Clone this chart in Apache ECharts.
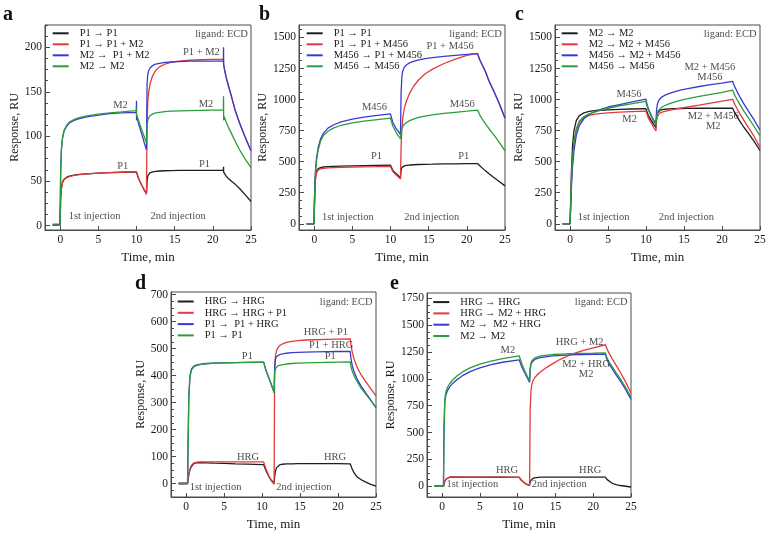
<!DOCTYPE html>
<html><head><meta charset="utf-8">
<script src="https://cdn.jsdelivr.net/npm/echarts@6/dist/echarts.min.js"></script>
<style>html,body{margin:0;padding:0;background:#fff}#c{width:771px;height:536px}</style>
</head><body><div id="c"></div><script>
const FONT = '"Liberation Serif","Times New Roman",serif';

// ---------- time grids (min) ----------
const tA = [-1, -0.02, 0.05, 0.15, 0.3, 0.5, 0.8, 1.2, 1.8, 2.5, 3.5, 5, 6.5, 8, 9.97, 9.99, 10.0, 10.02, 10.3, 10.7, 11.0, 11.3, 11.38, 11.48, 11.6, 11.8, 12.1, 12.5, 13, 13.7, 14.5, 15.5, 17, 18.5, 20, 21.38, 21.4, 21.42, 21.5, 21.7, 22, 22.4, 22.9, 23.5, 24.2, 25];
const tBC = [-1, -0.02, 0.05, 0.15, 0.3, 0.5, 0.8, 1.2, 1.8, 2.5, 3.5, 5, 6.5, 8, 9.98, 10.02, 10.3, 10.7, 11.0, 11.3, 11.38, 11.48, 11.6, 11.8, 12.1, 12.5, 13, 13.7, 14.5, 15.5, 17, 18.5, 20, 21.4, 21.5, 21.7, 22, 22.4, 22.9, 23.5, 24.2, 25];
const tDE = [-1, 0.18, 0.25, 0.35, 0.5, 0.7, 1.0, 1.4, 2, 2.7, 3.7, 5, 6.5, 8, 10.2, 10.25, 10.5, 10.9, 11.2, 11.58, 11.65, 11.75, 11.88, 12.05, 12.3, 12.7, 13.2, 13.9, 14.7, 15.7, 17, 18.5, 20, 21.6, 21.7, 21.85, 22.1, 22.5, 23, 23.6, 24.3, 25];

// ---------- panel a (RU) ----------
const namesA = ['P1 \u2192 P1', 'P1 \u2192 P1 + M2', 'M2 \u2192  P1 + M2', 'M2 \u2192 M2'];
const a_P1_P1 = [0.5, 0.5, 30, 42, 49, 52, 54, 55.5, 56.5, 57.3, 58, 58.8, 59.3, 59.8, 60.3, 60.3, 60.3, 59, 52, 45, 40, 36, 50, 56, 58, 59.5, 60.3, 60.8, 61.2, 61.5, 61.7, 61.8, 62, 62, 62, 62, 66, 60, 58, 56, 53, 50, 46.5, 41.5, 35, 27];
const a_P1_P1M2 = [1.5, 1.5, 30, 42, 48, 51.5, 53.5, 55, 56.3, 57.2, 58, 58.8, 59.3, 59.8, 60.5, 60.5, 60.5, 59, 52, 45, 40, 35, 120, 140, 150, 160, 168, 174, 178, 181, 183, 184.5, 185.5, 186, 186.5, 186.5, 186.5, 180, 178, 168, 158, 146, 130, 115, 100, 84];
const a_M2_P1M2 = [0.5, 0.5, 60, 85, 98, 106, 111, 115, 118, 120, 122, 124, 125.5, 126.5, 127, 140, 118, 124, 113, 102, 93, 85, 160, 170, 174, 177, 179.5, 181, 182, 183, 183.5, 184, 184.5, 184.5, 184.5, 184.5, 200, 180, 178, 168, 158, 146, 130, 115, 100, 84];
const a_M2_M2 = [0.5, 0.5, 60, 85, 99, 107, 112, 116, 119, 121, 123, 125, 126.5, 127.5, 129, 133, 124, 126, 117, 107, 100, 93, 112, 118, 121, 123.5, 125, 126.3, 127, 127.8, 128.3, 128.7, 129, 129.3, 129.5, 129.5, 145, 118, 122, 117, 111, 104, 95, 85, 75, 65];

// ---------- panel b ----------
const namesB = ['P1 \u2192 P1', 'P1 \u2192 P1 + M456', 'M456 \u2192 P1 + M456', 'M456 \u2192 M456'];
const b_P1_P1 = [0, 0, 250, 380, 425, 443, 452, 457, 460, 462, 464, 466, 468, 470, 472, 465, 430, 405, 388, 370, 430, 452, 460, 466, 470, 473, 475, 477, 479, 480, 482, 483, 484, 485, 478, 467, 450, 428, 402, 374, 342, 305];
const b_P1_P1M456 = [0, 0, 200, 350, 410, 432, 442, 447, 450, 452, 454, 456, 458, 460, 463, 456, 420, 395, 378, 360, 620, 760, 850, 930, 990, 1050, 1105, 1160, 1205, 1245, 1290, 1325, 1355, 1372, 1352, 1320, 1282, 1232, 1152, 1072, 977, 852];
const b_M456_P1M456 = [0, 0, 250, 420, 530, 610, 680, 730, 770, 795, 820, 843, 858, 870, 885, 870, 815, 770, 745, 718, 1050, 1180, 1230, 1260, 1280, 1295, 1308, 1320, 1330, 1338, 1348, 1356, 1363, 1370, 1350, 1318, 1280, 1230, 1150, 1070, 975, 850];
const b_M456_M456 = [0, 0, 240, 400, 510, 590, 660, 710, 745, 770, 793, 813, 826, 837, 850, 835, 785, 740, 710, 683, 740, 765, 782, 800, 815, 830, 843, 856, 866, 876, 888, 897, 906, 915, 900, 875, 845, 808, 765, 720, 660, 587];

// ---------- panel c ----------
const namesC = ['M2 \u2192 M2', 'M2 \u2192 M2 + M456', 'M456 \u2192 M2 + M456', 'M456 \u2192 M456'];
const c_M2_M2 = [0, 0, 150, 400, 620, 750, 830, 870, 893, 905, 912, 917, 921, 924, 927, 915, 870, 830, 800, 775, 860, 890, 903, 912, 918, 922, 925, 927, 928, 929, 930, 930, 930, 930, 915, 890, 860, 820, 775, 725, 665, 590];
const c_M2_M2M456 = [0, 0, 120, 320, 500, 640, 750, 815, 855, 873, 885, 893, 898, 902, 907, 893, 850, 808, 775, 748, 830, 862, 877, 890, 898, 905, 912, 920, 930, 940, 955, 972, 988, 1002, 985, 960, 925, 880, 830, 772, 705, 615];
const c_M456_M2M456 = [0, 0, 100, 280, 450, 590, 710, 790, 845, 880, 910, 940, 960, 980, 1004, 985, 925, 870, 835, 810, 920, 960, 985, 1005, 1022, 1035, 1048, 1062, 1075, 1088, 1105, 1120, 1133, 1147, 1128, 1100, 1062, 1015, 963, 905, 838, 755];
const c_M456_M456 = [0, 0, 130, 340, 520, 660, 765, 825, 862, 885, 905, 930, 950, 965, 985, 968, 915, 860, 825, 795, 860, 890, 910, 925, 940, 952, 965, 980, 993, 1007, 1025, 1042, 1058, 1075, 1058, 1032, 997, 955, 905, 850, 785, 707];

// ---------- panel d ----------
const namesD = ['HRG \u2192 HRG', 'HRG \u2192 HRG + P1', 'P1 \u2192  P1 + HRG', 'P1 \u2192 P1'];
const d_HRG_HRG = [0, 0, 15, 35, 52, 63, 74, 77, 77, 76.5, 75.5, 74.5, 73, 72, 70, 66, 48, 25, 12, 2, 25, 45, 58, 65, 69, 71.5, 72.5, 73, 73.5, 73.5, 73.5, 73.5, 73.5, 73, 68, 55, 40, 25, 15, 6, -3, -10];
const d_HRG_HRGP1 = [0, 0, 15, 37, 55, 68, 76, 79, 80, 80.5, 80.5, 80.5, 80.5, 80, 80, 76, 55, 28, 12, -3, 420, 470, 490, 502, 511, 518, 523, 527, 530, 532, 533, 534, 535, 536, 515, 490, 462, 432, 405, 380, 352, 325];
const d_P1_P1HRG = [0, 0, 150, 330, 400, 425, 435, 440, 443, 445, 446, 447, 448, 449, 450, 447, 420, 390, 368, 337, 430, 460, 470, 475, 478, 481, 483, 485, 486, 487, 488, 489, 489.5, 490, 465, 440, 415, 388, 363, 338, 310, 280];
const d_P1_P1 = [0, 0, 140, 320, 395, 420, 432, 438, 442, 444, 446, 447, 448, 449, 450, 447, 420, 390, 368, 337, 410, 425, 432, 436, 439, 441, 443, 445, 446, 447, 448, 449, 450, 451, 435, 418, 400, 378, 355, 333, 308, 283];

// ---------- panel e ----------
const namesE = ['HRG \u2192 HRG', 'HRG \u2192 M2 + HRG', 'M2 \u2192  M2 + HRG', 'M2 \u2192 M2'];
const e_HRG_HRG = [0, 0, 20, 45, 65, 78, 84, 86, 86, 85.5, 85, 84.5, 84, 84, 83, 78, 55, 30, 17, 7, 35, 55, 68, 75, 80, 83, 84.5, 85, 85.5, 85.5, 85.5, 85.5, 85.5, 85, 78, 62, 45, 28, 16, 7, 0, -7];
const e_HRG_M2HRG = [0, 0, 20, 46, 66, 79, 85, 87, 87, 86.5, 86, 85.5, 85, 85, 84, 79, 56, 32, 19, 9, 700, 880, 950, 985, 1015, 1045, 1075, 1110, 1145, 1185, 1225, 1260, 1290, 1318, 1300, 1275, 1240, 1190, 1130, 1060, 970, 868];
const e_M2_M2HRG = [0, 0, 500, 780, 850, 890, 925, 958, 995, 1030, 1068, 1103, 1132, 1155, 1178, 1170, 1120, 1060, 1020, 968, 1080, 1130, 1155, 1170, 1182, 1193, 1201, 1208, 1214, 1219, 1224, 1227, 1229, 1231, 1205, 1175, 1140, 1095, 1040, 980, 900, 808];
const e_M2_M2 = [0, 0, 520, 810, 880, 920, 955, 990, 1030, 1065, 1102, 1138, 1165, 1188, 1215, 1205, 1150, 1080, 1035, 980, 1095, 1145, 1170, 1185, 1197, 1207, 1215, 1222, 1227, 1231, 1235, 1237, 1239, 1242, 1220, 1192, 1158, 1115, 1060, 1000, 920, 830];

// ---------- tick labels ----------
const xTicks = [0, 5, 10, 15, 20, 25];
const yTicksA = [0, 50, 100, 150, 200];
const yTicksBC = [0, 250, 500, 750, 1000, 1250, 1500];
const yTicksD = [0, 100, 200, 300, 400, 500, 600, 700];
const yTicksE = [0, 250, 500, 750, 1000, 1250, 1500, 1750];

// ---------- annotation texts [t, RU, text] ----------
const annA = [[7.9,135,'M2'],[8.2,67,'P1'],[18.5,194,'P1 + M2'],[19.1,136,'M2'],[18.9,69,'P1'],[4.5,10,'1st injection'],[15.45,10,'2nd injection']];
const annB = [[7.9,942,'M456'],[8.15,546,'P1'],[17.8,1430,'P1 + M456'],[19.4,961,'M456'],[19.6,541,'P1'],[4.4,54,'1st injection'],[15.4,54,'2nd injection']];
const annC = [[7.75,1044,'M456'],[7.83,841,'M2'],[18.4,1263,'M2 + M456'],[18.4,1178,'M456'],[18.84,862,'M2 + M456'],[18.84,782,'M2'],[4.4,54,'1st injection'],[15.3,54,'2nd injection']];
const annD = [[8.06,470,'P1'],[8.14,99,'HRG'],[18.4,562,'HRG + P1'],[19.1,511,'P1 + HRG'],[18.97,471,'P1'],[19.6,97,'HRG'],[3.87,-12,'1st injection'],[15.5,-12,'2nd injection']];
const annE = [[8.7,1263,'M2'],[8.6,148,'HRG'],[18.2,1344,'HRG + M2'],[19.06,1139,'M2 + HRG'],[19.06,1046,'M2'],[19.6,148,'HRG'],[4.0,15,'1st injection'],[15.5,15,'2nd injection']];

const COLORS = ['#1e1e1e', '#e23a3a', '#3a3ad2', '#2a9e3c'];

const panels = [
  {key:'a', t:tA, names:namesA, vals:[a_P1_P1,a_P1_P1M2,a_M2_P1M2,a_M2_M2], ann:annA, box:[45,25,206,205], y:[-5,225,yTicksA,12.5], nameGap:23, legend:[52.7,27.8,0], letter:[3,4.5], ligand:[24.6,215]},
  {key:'b', t:tBC, names:namesB, vals:[b_P1_P1,b_P1_P1M456,b_M456_P1M456,b_M456_M456], ann:annB, box:[299,25,206,205], y:[-50,1600,yTicksBC,62.5], nameGap:28, legend:[306.7,27.8,0], letter:[259,4.5], ligand:[24.6,1526]},
  {key:'c', t:tBC, names:namesC, vals:[c_M2_M2,c_M2_M2M456,c_M456_M2M456,c_M456_M456], ann:annC, box:[555,25,205,205], y:[-50,1600,yTicksBC,62.5], nameGap:28, legend:[561.7,27.8,0], letter:[515,4.5], ligand:[24.55,1526]},
  {key:'d', t:tDE, names:namesD, vals:[d_HRG_HRG,d_HRG_HRGP1,d_P1_P1HRG,d_P1_P1], ann:annD, box:[171,292,205,205], y:[-50,710,yTicksD,25], nameGap:24, legend:[177.7,296,0.3], letter:[135,274], ligand:[24.55,673]},
  {key:'e', t:tDE, names:namesE, vals:[e_HRG_HRG,e_HRG_M2HRG,e_M2_M2HRG,e_M2_M2], ann:annE, box:[427,293,204,204], y:[-100,1800,yTicksE,62.5], nameGap:26, legend:[433.3,296.6,0.3], letter:[390,274], ligand:[24.55,1713]}
];

const AX = '#4a4a4a', TXT = '#1a1a1a';
const option = {animation:false, grid:[], xAxis:[], yAxis:[], series:[], legend:[], graphic:[]};

panels.forEach((p, i) => {
  const [L, T, W, H] = p.box;
  option.grid.push({left:L, top:T, width:W, height:H, show:true, borderColor:AX, borderWidth:1, backgroundColor:'transparent'});
  option.xAxis.push({
    gridIndex:i, type:'value', min:-2, max:25, position:'bottom',
    axisLine:{show:true, onZero:false, lineStyle:{color:AX, width:1}},
    axisTick:{show:true, inside:true, length:4, customValues:xTicks, lineStyle:{color:AX}},
    axisLabel:{customValues:xTicks, margin:4, fontSize:11.5, fontFamily:FONT, color:TXT},
    splitLine:{show:false},
    name:'Time, min', nameLocation:'middle', nameGap:21,
    nameTextStyle:{fontSize:13, fontFamily:FONT, color:TXT}
  });
  const [ymin, ymax, major, step] = p.y;
  const minor = [];
  for (let v = Math.ceil(ymin/step)*step; v <= ymax; v += step) {
    if (!major.some(m => Math.abs(m - v) < 1e-6)) minor.push(v);
  }
  option.yAxis.push({
    gridIndex:i, type:'value', min:ymin, max:ymax, position:'left',
    axisLine:{show:true, onZero:false, lineStyle:{color:AX, width:1}},
    axisTick:{show:true, inside:true, length:5, customValues:major, lineStyle:{color:AX}},
    axisLabel:{customValues:major, margin:3, fontSize:11.5, fontFamily:FONT, color:TXT, formatter: v => String(v)},
    splitLine:{show:false},
    name:'Response, RU', nameLocation:'middle', nameGap:p.nameGap,
    nameTextStyle:{fontSize:12, fontFamily:FONT, color:TXT}
  });
  option.yAxis.push({
    gridIndex:i, type:'value', min:ymin, max:ymax, position:'left',
    axisLine:{show:false, onZero:false},
    axisTick:{show:true, inside:true, length:3, customValues:minor, lineStyle:{color:AX}},
    axisLabel:{show:false}, splitLine:{show:false}
  });
  p.vals.forEach((vals, j) => {
    option.series.push({
      name: p.key + ':' + p.names[j], type:'line', xAxisIndex:i, yAxisIndex:2*i,
      data: p.t.map((x, k) => [x, vals[k]]),
      showSymbol:false, symbol:'none', z:2+j,
      lineStyle:{width:1.3, color:COLORS[j]}, itemStyle:{color:COLORS[j]},
      emphasis:{disabled:true}
    });
  });
  const annData = p.ann.map(([x, y, txt]) => ({value:[x, y], label:{formatter:txt}}));
  annData.push({value:p.ligand, label:{formatter:'ligand: ECD', position:'left', distance:0}});
  option.series.push({
    type:'scatter', xAxisIndex:i, yAxisIndex:2*i, symbolSize:0, silent:true, z:20,
    itemStyle:{color:'rgba(0,0,0,0)'},
    label:{show:true, position:'inside', fontSize:10.5, fontFamily:FONT, color:TXT},
    emphasis:{disabled:true},
    data: annData
  });
  option.legend.push({
    data: p.names.map(n => p.key + ':' + n),
    orient:'vertical', left:p.legend[0], top:p.legend[1], padding:0, itemGap:p.legend[2],
    itemWidth:16, itemHeight:2, icon:'path://M0,0 L16,0 L16,2 L0,2 Z', selectedMode:false,
    formatter: n => n.slice(2),
    textStyle:{fontSize:10.5, lineHeight:11, fontFamily:FONT, color:TXT, padding:[0,0,0,6]}
  });
  option.graphic.push({type:'text', left:p.letter[0], top:p.letter[1],
    style:{text:p.key, font:'bold 20px "Liberation Serif"', fill:'#111'}});
});

const chart = echarts.init(document.getElementById('c'), null, {renderer:'canvas'});
chart.setOption(option);
</script></body></html>
